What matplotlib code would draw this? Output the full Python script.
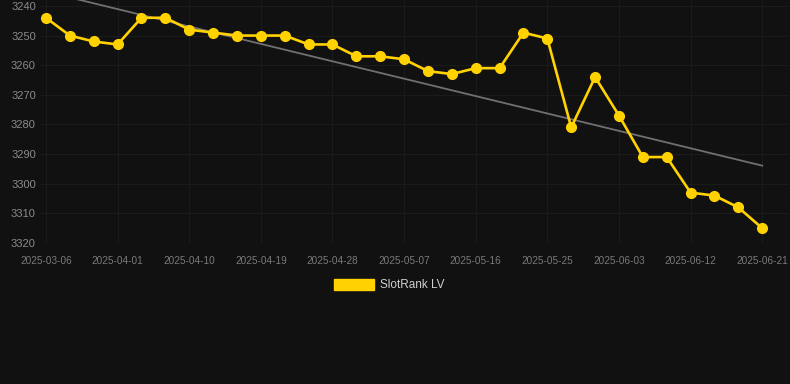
import matplotlib.pyplot as plt
import numpy as np

dates = ['2025-03-06', '2025-03-26', '2025-03-29', '2025-04-01', '2025-04-04',
         '2025-04-07', '2025-04-10', '2025-04-13', '2025-04-16', '2025-04-19',
         '2025-04-22', '2025-04-25', '2025-04-28', '2025-05-01', '2025-05-04',
         '2025-05-07', '2025-05-10', '2025-05-13', '2025-05-16', '2025-05-19',
         '2025-05-22', '2025-05-25', '2025-05-28', '2025-05-31', '2025-06-03',
         '2025-06-06', '2025-06-09', '2025-06-12', '2025-06-15', '2025-06-18',
         '2025-06-21']
rank = [3244, 3250, 3252, 3253, 3244, 3244, 3248, 3249, 3250, 3250,
        3250, 3253, 3253, 3257, 3257, 3258, 3262, 3263, 3261, 3261,
        3249, 3251, 3281, 3264, 3277, 3291, 3291, 3303, 3304, 3308,
        3315]
trend_ends = [3235.2, 3293.9]

bg = '#111111'
gold = '#FFD200'
plt.rcParams['font.family'] = ['Liberation Sans', 'DejaVu Sans']

fig = plt.figure(figsize=(7.9, 3.84), dpi=100, facecolor=bg)
ax = fig.add_axes([40/790, 141/384, 748/790, 243/384], facecolor=bg)

x = np.arange(len(rank))
ax.plot([x[0], x[-1]], trend_ends, color='#707070', lw=1.3, zorder=2)
ax.plot(x, rank, color=gold, lw=1.9, marker='o', ms=7, zorder=3)

ax.set_ylim(3320, 3238)
ax.set_yticks(range(3240, 3321, 10))
ax.set_xlim(-0.25, 31.08)
ax.set_xticks(x[::3])
ax.set_xticklabels(dates[::3])

ax.grid(True, color='#1b1b1b', lw=0.8)
ax.axhline(3320, color='#2a2a2a', lw=0.8, zorder=1)
ax.set_axisbelow(True)
for s in ax.spines.values():
    s.set_visible(False)
ax.tick_params(axis='y', length=0, pad=3, labelsize=8, labelcolor='#8a8a8a')
ax.tick_params(axis='x', length=0, pad=9, labelsize=7.2, labelcolor='#7a7a7a')

fig.patches.append(plt.Rectangle((334/790, 1 - 290/384), 40/790, 11/384,
                                 transform=fig.transFigure, color=gold))
fig.text(380/790, 1 - 284.5/384, 'SlotRank LV', color='#d0d0d0',
         fontsize=8.5, va='center', ha='left')

fig.savefig('out.png', dpi=100, facecolor=bg)
